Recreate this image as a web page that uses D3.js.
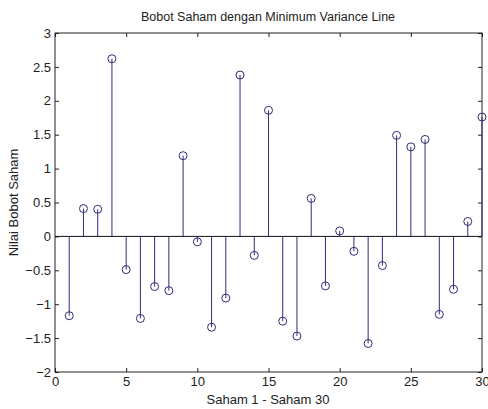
<!DOCTYPE html>
<html>
<head>
<meta charset="utf-8">
<script src="https://cdn.jsdelivr.net/npm/d3@7"></script>
<style>
  body { margin: 0; background: #fff; }
  svg text { font-family: "Liberation Sans", Arial, sans-serif; fill: #222; }
</style>
</head>
<body>
<svg width="488" height="409"></svg>
<script>
// saham index 1..30
var saham = d3.range(1, 31);
// bobot per saham
var bobot = [-1.17, 0.41, 0.40, 2.62, -0.49, -1.21, -0.74, -0.80, 1.19, -0.08,
             -1.34, -0.91, 2.38, -0.28, 1.86, -1.25, -1.47, 0.56, -0.73, 0.08,
             -0.22, -1.58, -0.43, 1.49, 1.32, 1.43, -1.15, -0.78, 0.22, 1.76];
var xTicks = [0, 5, 10, 15, 20, 25, 30];
var yTicks = [-2, -1.5, -1, -0.5, 0, 0.5, 1, 1.5, 2, 2.5, 3];

var svg = d3.select('svg');
// plot box (window.top is reserved, so own names)
var boxLeft = 55, boxRight = 482, boxTop = 33, boxBottom = 372;
var stemColor = '#2e2e78';

var x = d3.scaleLinear().domain([0, 30]).range([boxLeft, boxRight]);
var y = d3.scaleLinear().domain([-2, 3]).range([boxBottom, boxTop]);

// box
svg.append('rect')
    .attr('x', boxLeft).attr('y', boxTop)
    .attr('width', boxRight - boxLeft).attr('height', boxBottom - boxTop)
    .style('fill', 'none').style('stroke', '#222').style('stroke-width', 1);

// axes, ticks pointing inward like matlab
var xAxis = d3.axisBottom(x).tickValues(xTicks).tickSize(-4).tickPadding(5)
    .tickFormat(d3.format('d'));
var gx = svg.append('g').attr('transform', 'translate(0,' + boxBottom + ')').call(xAxis);
var gxTop = svg.append('g').attr('transform', 'translate(0,' + boxTop + ')')
    .call(d3.axisTop(x).tickValues(xTicks).tickSize(-4).tickFormat(''));

var yAxis = d3.axisLeft(y).tickValues(yTicks).tickSize(-4).tickPadding(4)
    .tickFormat(function(d) { return d3.format('')(d); });
var gy = svg.append('g').attr('transform', 'translate(' + boxLeft + ',0)').call(yAxis);
var gyRight = svg.append('g').attr('transform', 'translate(' + boxRight + ',0)')
    .call(d3.axisRight(y).tickValues(yTicks).tickSize(-4).tickFormat(''));

[gx, gxTop, gy, gyRight].forEach(function(g) {
  g.select('.domain').remove();
  g.selectAll('line').style('stroke', '#222');
  g.selectAll('text').style('font-size', '13px')
    .style('font-family', '"Liberation Sans", Arial, sans-serif').style('fill', '#222');
});

// baseline at zero
svg.append('line')
    .attr('x1', boxLeft).attr('x2', boxRight)
    .attr('y1', y(0)).attr('y2', y(0))
    .style('stroke', '#111').style('stroke-width', 1);

// stems
svg.selectAll('.stem').data(saham).enter().append('line')
    .attr('class', 'stem')
    .attr('x1', function(d) { return x(d); })
    .attr('x2', function(d) { return x(d); })
    .attr('y1', y(0))
    .attr('y2', function(d, i) { return y(bobot[i]); })
    .style('stroke', stemColor).style('stroke-width', 1);

// circle markers
svg.selectAll('.mark').data(saham).enter().append('circle')
    .attr('class', 'mark')
    .attr('cx', function(d) { return x(d); })
    .attr('cy', function(d, i) { return y(bobot[i]); })
    .attr('r', 4)
    .style('fill', 'none').style('stroke', stemColor).style('stroke-width', 1);

// labels
svg.append('text').attr('x', 268).attr('y', 21).attr('text-anchor', 'middle')
    .style('font-size', '12.5px').text('Bobot Saham dengan Minimum Variance Line');
svg.append('text').attr('x', 268).attr('y', 404).attr('text-anchor', 'middle')
    .style('font-size', '13px').text('Saham 1 - Saham 30');
svg.append('text').attr('transform', 'translate(18,' + ((boxTop + boxBottom) / 2) + ') rotate(-90)')
    .attr('text-anchor', 'middle')
    .style('font-size', '13px').text('Nilai Bobot Saham');
</script>
</body>
</html>
